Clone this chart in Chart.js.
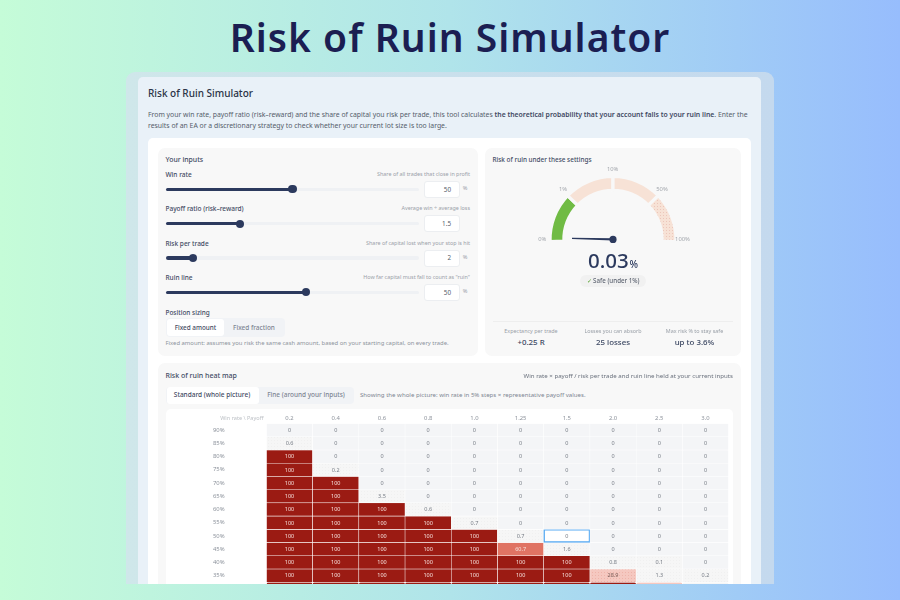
<!DOCTYPE html>
<html lang="en"><head><meta charset="utf-8"><title>Risk of Ruin Simulator</title>
<style>
html,body{margin:0;padding:0;width:900px;height:600px;overflow:hidden}
body{background:linear-gradient(90deg,#c5fcd8 0%,#b0e4ea 50%,#97bdfd 100%);font-family:"Noto Sans",sans-serif;position:relative}
h1{position:absolute;left:0;top:0;width:900px;margin:0;text-align:center;font:600 39px/74px "Noto Sans",sans-serif;letter-spacing:1px;color:#1b1e52}
#clip{position:absolute;left:0;top:0;width:900px;height:584px;overflow:hidden;filter:blur(.35px)}
.b{position:absolute;box-sizing:border-box}
.t{position:absolute;white-space:nowrap;line-height:1;color:#5f6673}
canvas{position:absolute}
b{font-weight:600;color:#3f4a63}
</style>
<script src="https://cdn.jsdelivr.net/npm/chart.js@4"></script>
</head><body>
<h1>Risk of Ruin Simulator</h1>
<div id="clip">
<canvas id="gauge" width="160" height="80" style="left:532.5px;top:168.6px;width:160px;height:80px"></canvas>
<canvas id="heat" width="520" height="190" style="left:212.5px;top:409px;width:520px;height:190px"></canvas>
</div>
<script>
// ---------- data ----------
const sliderNames=["Win rate","Payoff ratio (risk–reward)","Risk per trade","Ruin line"];
const sliderHints=["Share of all trades that close in profit","Average win ÷ average loss","Share of capital lost when your stop is hit","How far capital must fall to count as \"ruin\""];
const sliderValues=[50,1.5,2,50];
const sliderMins=[0,0.1,0.1,5];
const sliderMaxs=[100,5,20,86];
const sliderUnits=["%","","%","%"];
const gaugeLabels=["0%","1%","10%","50%","100%"];
const gaugeBands=[1,1,1,1];
const gaugeStops=[0,1,10,50,100];
const ruinValue=0.03;
const statLabels=["Expectancy per trade","Losses you can absorb","Max risk % to stay safe"];
const statValues=["+0.25 R","25 losses","up to 3.6%"];
const payoffs=["0.2","0.4","0.6","0.8","1.0","1.25","1.5","2.0","2.5","3.0"];
const winRates=[90,85,80,75,70,65,60,55,50,45,40,35,30];
const r90=[0,0,0,0,0,0,0,0,0,0];
const r85=[0.6,0,0,0,0,0,0,0,0,0];
const r80=[100,0,0,0,0,0,0,0,0,0];
const r75=[100,0.2,0,0,0,0,0,0,0,0];
const r70=[100,100,0,0,0,0,0,0,0,0];
const r65=[100,100,3.5,0,0,0,0,0,0,0];
const r60=[100,100,100,0.6,0,0,0,0,0,0];
const r55=[100,100,100,100,0.7,0,0,0,0,0];
const r50=[100,100,100,100,100,0.7,0,0,0,0];
const r45=[100,100,100,100,100,60.7,1.6,0,0,0];
const r40=[100,100,100,100,100,100,100,0.8,0.1,0];
const r35=[100,100,100,100,100,100,100,28.9,1.3,0.2];
const r30=[100,100,100,100,100,100,100,100,26,3];
const heatRows=[r90,r85,r80,r75,r70,r65,r60,r55,r50,r45,r40,r35,r30];
const currentWin=50, currentPayoff="1.5";

// ---------- page furniture ----------
const clip=document.getElementById('clip');
function box(x,y,w,h,bg,r,extra){const d=document.createElement('div');d.className='b';
 d.style.cssText=`left:${x}px;top:${y}px;width:${w}px;height:${h}px;background:${bg};border-radius:${r||0}px;${extra||''}`;
 clip.insertBefore(d,clip.querySelector('canvas'));return d;}
function txt(x,y,s,size,o){o=o||{};const d=document.createElement('div');d.className='t';
 const tx=o.a==='c'?'-50%':o.a==='r'?'-100%':'0';
 d.style.cssText=`left:${x}px;top:${y}px;transform:translate(${tx},-50%);font-size:${size}px;font-weight:${o.w||400};color:${o.c||'#6a717d'};`;
 if(o.html)d.innerHTML=s;else d.textContent=s;clip.appendChild(d);return d;}

box(126,72,648,600,'linear-gradient(90deg,#cfe7ea,#c4d9ee)',9);
box(137.5,76.5,623,600,'#e9f1f8',5);
box(147.5,138,603,600,'#ffffff',5);
box(158,148,320,207.5,'#f8f8f8',7);
box(485,148,256,207.5,'#f8f8f8',7);
box(158,362.5,583,400,'#f8f8f8',7);
box(166,409,566.5,300,'#ffffff',5);

const NAVY='#2c3a5e';
txt(148,93,'Risk of Ruin Simulator',10,{w:500,c:'#2a3346'});
txt(148,115,'From your win rate, payoff ratio (risk–reward) and the share of capital you risk per trade, this tool calculates <b>the theoretical probability that your account falls to your ruin line</b>. Enter the',6.87,{html:1,c:'#555d6b'});
txt(148,125.5,'results of an EA or a discretionary strategy to check whether your current lot size is too large.',6.87,{c:'#555d6b'});

txt(165.5,160,'Your inputs',6.9,{w:500,c:'#3f4a63'});
const trackL=165.7,trackW=253.3,thumb=8,rowYs=[189.3,223.7,258,292.3],lblYs=[175,209.3,243.8,278];
sliderNames.forEach((n,i)=>{
  const p=(sliderValues[i]-sliderMins[i])/(sliderMaxs[i]-sliderMins[i]);
  const cx=trackL+thumb/2+p*(trackW-thumb), y=rowYs[i];
  txt(165.5,lblYs[i],n,6.5,{w:500,c:'#3f4a63'});
  txt(470,lblYs[i],sliderHints[i],5.4,{a:'r',c:'#9aa0a8'});
  box(trackL,y-1.6,trackW,3.2,'#eff1f4',2);
  box(trackL,y-1.6,cx-trackL,3.2,NAVY,2);
  box(cx-4.2,y-4.2,8.4,8.4,NAVY,5);
  box(424.3,y-8.5,36,17,'#fff',3,'border:1px solid #eceef1');
  txt(451,y+.2,String(sliderValues[i]),6.3,{a:'r',c:'#555d6b'});
  if(sliderUnits[i])txt(465,y,sliderUnits[i],5.6,{a:'c',c:'#9aa0a8'});
});
txt(165.5,313,'Position sizing',6.45,{w:500,c:'#3f4a63'});
box(166,318,118.5,18.7,'#f1f3f6',4);
box(167,319,57,16.7,'#fff',3);
txt(195.5,327.8,'Fixed amount',6.35,{a:'c',w:500,c:'#3f4a63'});
txt(254,327.8,'Fixed fraction',6.45,{a:'c',w:500,c:'#7d8592'});
txt(165.5,343.5,'Fixed amount: assumes you risk the same cash amount, based on your starting capital, on every trade.',5.9,{c:'#8d939c'});

txt(492.5,160,'Risk of ruin under these settings',6.4,{w:500,c:'#3f4a63'});
const glx=[542.3,563,612.7,662,682.5],gly=[239.5,190,170,190,239.5];
gaugeLabels.forEach((s,i)=>txt(glx[i],gly[i],s,5.8,{a:'c',c:'#a3a7ad'}));
txt(588,260,String(ruinValue),20.5,{w:500,c:NAVY});
txt(629.5,264,'%',10,{w:500,c:NAVY});
box(580,274.7,66,12,'#f1f1f1',6);
txt(613,280.8,'<span style="color:#5aa332">✓</span> Safe (under 1%)',6.2,{a:'c',html:1,w:500,c:'#5f6673'});
box(493,320.5,240,1,'#eeeeee',0);
const sx=[531,613,694.5];
statLabels.forEach((s,i)=>{txt(sx[i],332,s,5.4,{a:'c',c:'#9aa0a8'});txt(sx[i],343,statValues[i],7.9,{a:'c',w:500,c:'#3a4661'});});

txt(165.5,375,'Risk of ruin heat map',7,{w:500,c:'#3f4a63'});
txt(733,375.5,'Win rate × payoff / risk per trade and ruin line held at your current inputs',6.14,{a:'r',c:'#6a717d'});
box(166,386.5,188,17.5,'#f1f3f6',4);
box(166.5,387,92,16.5,'#fff',3);
txt(212,395,'Standard (whole picture)',6.5,{a:'c',w:500,c:'#3f4a63'});
txt(306,395,'Fine (around your inputs)',6.45,{a:'c',w:500,c:'#7d8592'});
txt(360,395,'Showing the whole picture: win rate in 5% steps × representative payoff values.',6.1,{c:'#7d8592'});
txt(263.5,418.5,'Win rate \\ Payoff',5.55,{a:'r',c:'#bdc1c6'});

// ---------- charts ----------
function dots(bg,dot){const c=document.createElement('canvas');c.width=c.height=3;const x=c.getContext('2d');
 x.fillStyle=bg;x.fillRect(0,0,3,3);x.fillStyle=dot;x.fillRect(1,1,1,1);return x.createPattern(c,'repeat');}

const needle={id:'needle',afterDatasetsDraw(ch){
  const arc=ch.getDatasetMeta(0).data[0],ctx=ch.ctx,cx=arc.x,cy=arc.y;
  let i=0;while(i<gaugeStops.length-2&&ruinValue>gaugeStops[i+1])i++;
  const frac=(i+(ruinValue-gaugeStops[i])/(gaugeStops[i+1]-gaugeStops[i]))/gaugeBands.length;
  const a=Math.PI+frac*Math.PI,L=41;
  ctx.save();ctx.fillStyle=NAVY;
  const nx=Math.cos(a+Math.PI/2),ny=Math.sin(a+Math.PI/2);
  ctx.beginPath();ctx.moveTo(cx+Math.cos(a)*L+nx*.6,cy+Math.sin(a)*L+ny*.6);
  ctx.lineTo(cx+nx*1.2,cy+ny*1.2);ctx.lineTo(cx-nx*1.2,cy-ny*1.2);
  ctx.lineTo(cx+Math.cos(a)*L-nx*.6,cy+Math.sin(a)*L-ny*.6);ctx.closePath();ctx.fill();
  ctx.beginPath();ctx.arc(cx,cy,3.6,0,Math.PI*2);ctx.fill();ctx.restore();}};
new Chart(document.getElementById('gauge'),{type:'doughnut',plugins:[needle],
 data:{labels:["0–1%","1–10%","10–50%","50–100%"],datasets:[{data:gaugeBands,
   backgroundColor:['#70bb44','#f7e2d6','#f7e2d6',dots('#f7e2d6','#ecc6ba')],
   borderWidth:3.2,borderColor:'#f8f8f8',borderJoinStyle:'miter'}]},
 options:{responsive:false,animation:false,rotation:-92,circumference:184,radius:63,cutout:'78%',
   layout:{padding:0},plugins:{legend:{display:false},tooltip:{enabled:false}}}});

const pink=dots('#f5c8c0','#eeb3a9');
const soft=dots('#f6f6f6','#f0f0f0');
function cellColor(v){if(v===0)return '#f4f5f7';if(v<5)return soft;if(v<45)return pink;if(v<90)return '#e07363';return '#9b1b13';}
const isCurrent=(row,col)=>winRates[row]===currentWin&&payoffs[col]===currentPayoff;
const cellText={id:'cellText',afterDatasetsDraw(ch){const ctx=ch.ctx;ctx.save();
  ctx.font='5.5px "Noto Sans"';ctx.textAlign='center';ctx.textBaseline='middle';
  ch.data.datasets.forEach((ds,r)=>{ch.getDatasetMeta(r).data.forEach((el,c)=>{
    const v=heatRows[r][c],p=el.getCenterPoint();
    ctx.fillStyle=v>=45?'#f6e2de':(v>=5?'#7a5a55':'#767c85');
    ctx.fillText(String(v),p.x,p.y+.3);});});ctx.restore();}};
new Chart(document.getElementById('heat'),{type:'bar',plugins:[cellText],
 data:{labels:payoffs,datasets:heatRows.map((row,r)=>({label:winRates[r]+'%',data:row.map(()=>1),
   backgroundColor:row.map((v,c)=>isCurrent(r,c)?'#ffffff':cellColor(v)),
   borderColor:row.map((v,c)=>isCurrent(r,c)?'#55a9f2':'#ffffff'),
   borderWidth:row.map((v,c)=>isCurrent(r,c)?1.5:0.55),
   borderSkipped:false,borderRadius:2,barPercentage:1,categoryPercentage:1}))},
 options:{responsive:false,animation:false,layout:{padding:{right:4.4,left:0,top:0,bottom:0}},
  plugins:{legend:{display:false},tooltip:{enabled:false}},
  scales:{
   x:{position:'top',stacked:true,grid:{display:false,drawTicks:false},border:{display:false},
      afterFit(s){s.height=14.45;},
      ticks:{padding:2,maxRotation:0,autoSkip:false,color:'#8d939c',font:{size:5.9,family:'"Noto Sans"'}}},
   y:{stacked:true,min:0,max:13,reverse:true,grid:{display:false,drawTicks:false},border:{display:false},
      afterFit(s){s.width=53.4;},
      afterBuildTicks(s){s.ticks=winRates.map((w,i)=>({value:i+.5}));},
      ticks:{autoSkip:false,padding:0,crossAlign:'far',color:'#8d939c',font:{size:5.9,family:'"Noto Sans"'},
        callback:v=>winRates[Math.floor(v)]+'%'}}}}});
</script>
</body></html>
